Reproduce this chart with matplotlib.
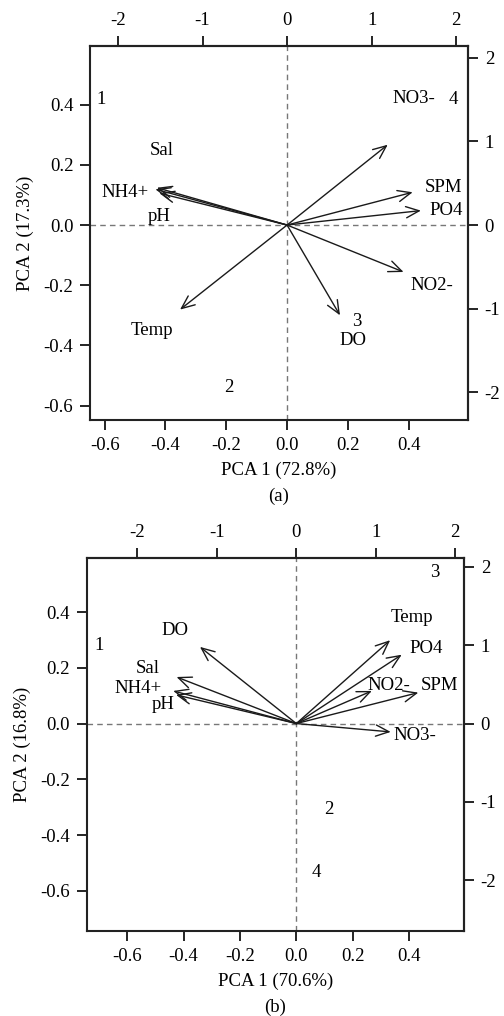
import matplotlib
matplotlib.use('Agg')
import matplotlib.pyplot as plt

plt.rcParams['font.family'] = ['Liberation Serif', 'DejaVu Serif']
plt.rcParams['font.size'] = 13.5

# ---------------- Panel (a) data ----------------
vars_a = ['NO3-', 'SPM', 'PO4', 'Sal', 'NH4+', 'pH', 'Temp', 'DO', 'NO2-']
pc1_a = [0.331, 0.413, 0.440, -0.428, -0.433, -0.420, -0.352, 0.174, 0.383]
pc2_a = [0.267, 0.109, 0.048, 0.124, 0.119, 0.106, -0.281, -0.300, -0.156]
labx_a = [0.416, 0.514, 0.523, -0.412, -0.533, -0.420, -0.445, 0.218, 0.476]
laby_a = [0.420, 0.126, 0.048, 0.248, 0.109, 0.030, -0.350, -0.383, -0.200]
sites_a = ['1', '2', '3', '4']
site1_a = [-0.610, -0.190, 0.230, 0.547]
site2_a = [0.417, -0.541, -0.322, 0.417]
title_a = ('PCA 1 (72.8%)', 'PCA 2 (17.3%)', '(a)')

# ---------------- Panel (b) data ----------------
vars_b = ['Temp', 'PO4', 'NO2-', 'SPM', 'NO3-', 'DO', 'Sal', 'NH4+', 'pH']
pc1_b = [0.333, 0.374, 0.268, 0.433, 0.335, -0.342, -0.425, -0.437, -0.427]
pc2_b = [0.299, 0.247, 0.117, 0.111, -0.030, 0.275, 0.167, 0.117, 0.103]
labx_b = [0.412, 0.460, 0.327, 0.508, 0.421, -0.430, -0.527, -0.561, -0.472]
laby_b = [0.382, 0.269, 0.137, 0.137, -0.042, 0.334, 0.197, 0.125, 0.069]
sites_b = ['1', '2', '3', '4']
site1_b = [-0.700, 0.114, 0.492, 0.070]
site2_b = [0.281, -0.308, 0.543, -0.535]
title_b = ('PCA 1 (70.6%)', 'PCA 2 (16.8%)', '(b)')

prim_ticks_x = [-0.6, -0.4, -0.2, 0.0, 0.2, 0.4]
prim_ticks_y = [-0.6, -0.4, -0.2, 0.0, 0.2, 0.4]
sec_ticks = [-2, -1, 0, 1, 2]

FS = 13.5
fig = plt.figure(figsize=(5.04, 10.16), dpi=100)


def panel(rect, lim, fx, fy, vars_, p1, p2, lx, ly, sites, s1, s2, titles):
    ax = fig.add_axes(rect)
    ax.set_xlim(lim)
    ax.set_ylim(lim)
    ax.axhline(0, color='#777777', lw=1.0, ls=(0, (4, 3)), zorder=1)
    ax.axvline(0, color='#777777', lw=1.0, ls=(0, (4, 3)), zorder=1)
    for name, x, y, tx, ty in zip(vars_, p1, p2, lx, ly):
        ax.annotate('', xy=(x, y), xytext=(0, 0),
                    arrowprops=dict(arrowstyle='->,head_length=0.7,head_width=0.3',
                                    color='#1a1a1a', lw=1.0, shrinkA=0, shrinkB=0),
                    zorder=3)
        ax.text(tx, ty, name, ha='center', va='center', fontsize=FS, zorder=4)
    for name, x, y in zip(sites, s1, s2):
        ax.text(x, y, name, ha='center', va='center', fontsize=FS, zorder=4)
    ax.set_xticks(prim_ticks_x)
    ax.set_xticklabels(['%.1f' % v for v in prim_ticks_x])
    ax.set_yticks(prim_ticks_y)
    ax.set_yticklabels(['%.1f' % v for v in prim_ticks_y])
    ax.tick_params(direction='out', length=7, width=1.2, labelsize=FS, pad=5)
    for s in ax.spines.values():
        s.set_linewidth(1.5)
        s.set_color('#222222')
    ax.set_xlabel(titles[0], fontsize=FS, labelpad=6)
    ax.set_ylabel(titles[1], fontsize=FS, labelpad=7)
    sx = ax.secondary_xaxis('top', functions=(lambda v: v / fx, lambda v: v * fx))
    sx.set_xticks(sec_ticks)
    sx.set_xticklabels([str(v) for v in sec_ticks])
    sx.tick_params(direction='out', length=7, width=1.2, labelsize=FS, pad=5)
    sy = ax.secondary_yaxis('right', functions=(lambda v: v / fy, lambda v: v * fy))
    sy.set_yticks(sec_ticks)
    sy.set_yticklabels([str(v) for v in sec_ticks])
    sy.tick_params(direction='out', length=7, width=1.2, labelsize=FS, pad=5)
    for sec in (sx, sy):
        for s in sec.spines.values():
            s.set_linewidth(1.5)
            s.set_color('#222222')
    ax.text(0.5, -0.205, titles[2], transform=ax.transAxes, ha='center', va='center', fontsize=FS)
    return ax


panel([0.1786, 0.5866, 0.7500, 0.3681], (-0.648, 0.595), 0.278, 0.278,
      vars_a, pc1_a, pc2_a, labx_a, laby_a, sites_a, site1_a, site2_a, title_a)
panel([0.1720, 0.0837, 0.7486, 0.3674], (-0.744, 0.595), 0.282, 0.281,
      vars_b, pc1_b, pc2_b, labx_b, laby_b, sites_b, site1_b, site2_b, title_b)

fig.savefig('out.png', dpi=100)
